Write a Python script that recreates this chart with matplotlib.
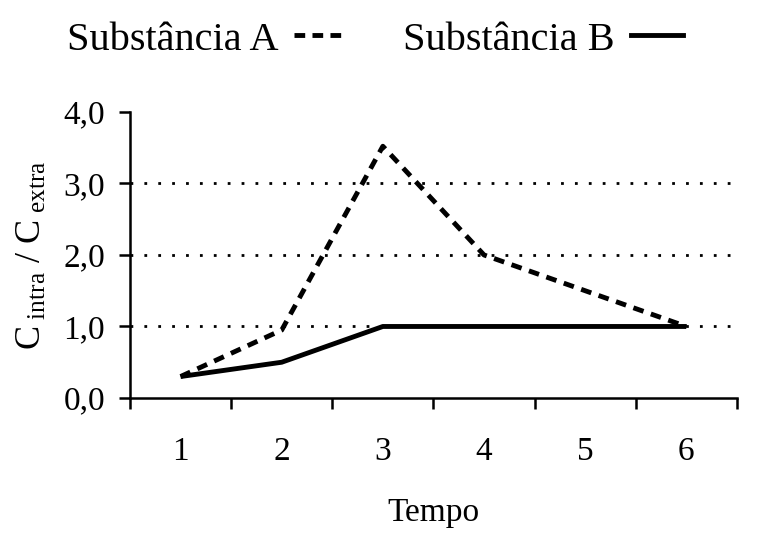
import matplotlib
matplotlib.use('Agg')
import matplotlib.pyplot as plt
from matplotlib.lines import Line2D

# dados
tempo = [1, 2, 3, 4, 5, 6]
subst_a = [0.3, 0.95, 3.52, 2.0, 1.5, 1.0]
subst_b = [0.3, 0.5, 1.0, 1.0, 1.0, 1.0]
y_ticks = [0.0, 1.0, 2.0, 3.0, 4.0]
y_labels = ['0,0', '1,0', '2,0', '3,0', '4,0']
grid_levels = [1.0, 2.0, 3.0]

plt.rcParams['font.family'] = ['Liberation Serif', 'DejaVu Serif']
plt.rcParams['mathtext.fontset'] = 'custom'
plt.rcParams['mathtext.rm'] = 'Liberation Serif'
plt.rcParams['mathtext.it'] = 'Liberation Serif'

fig = plt.figure(figsize=(7.62, 5.33), dpi=100)
ax = fig.add_axes([0.1706, 0.2533, 0.7964, 0.5367])

ax.hlines(grid_levels, 0.5, 6.5, colors='black', linestyles=(0, (1, 4)), linewidth=2)

ax.plot(tempo, subst_a, color='black', linewidth=3.5, linestyle=(0, (2.2, 1.6)))
ax.plot(tempo, subst_b, color='black', linewidth=3.5, solid_capstyle='butt')

ax.set_xlim(0.5, 6.5)
ax.set_ylim(0, 4.0)
ax.set_yticks(y_ticks)
ax.set_yticklabels(y_labels, fontsize=24)

# ticks nas fronteiras, rotulos no centro das categorias
ax.set_xticks([t - 0.5 for t in tempo] + [tempo[-1] + 0.5])
ax.set_xticklabels([])
ax.set_xticks(tempo, minor=True)
ax.set_xticklabels([str(t) for t in tempo], minor=True, fontsize=24)
ax.tick_params(axis='x', which='major', direction='out', length=8, width=1.8)
ax.tick_params(axis='x', which='minor', length=0, pad=28)
ax.tick_params(axis='y', direction='out', length=8, width=1.8, pad=10)

for s in ['top', 'right']:
    ax.spines[s].set_visible(False)
for s in ['left', 'bottom']:
    ax.spines[s].set_linewidth(1.8)

ax.set_xlabel('Tempo', fontsize=24, labelpad=22)
ax.set_ylabel(r'C$_{\mathregular{\ intra}}$ / C$_{\mathregular{\ extra}}$', fontsize=26, labelpad=10)

handles = [Line2D([], [], color='black', linewidth=3.5, linestyle=(0, (2.2, 1.5))),
           Line2D([], [], color='black', linewidth=3.5)]
fig.legend(handles, ['Substância A', 'Substância B'], loc='center', bbox_to_anchor=(0.492, 0.925),
           ncol=2, frameon=False, fontsize=29, markerfirst=False, handlelength=1.3,
           handletextpad=0.4, columnspacing=1.4)

fig.savefig('out.png', dpi=100)
